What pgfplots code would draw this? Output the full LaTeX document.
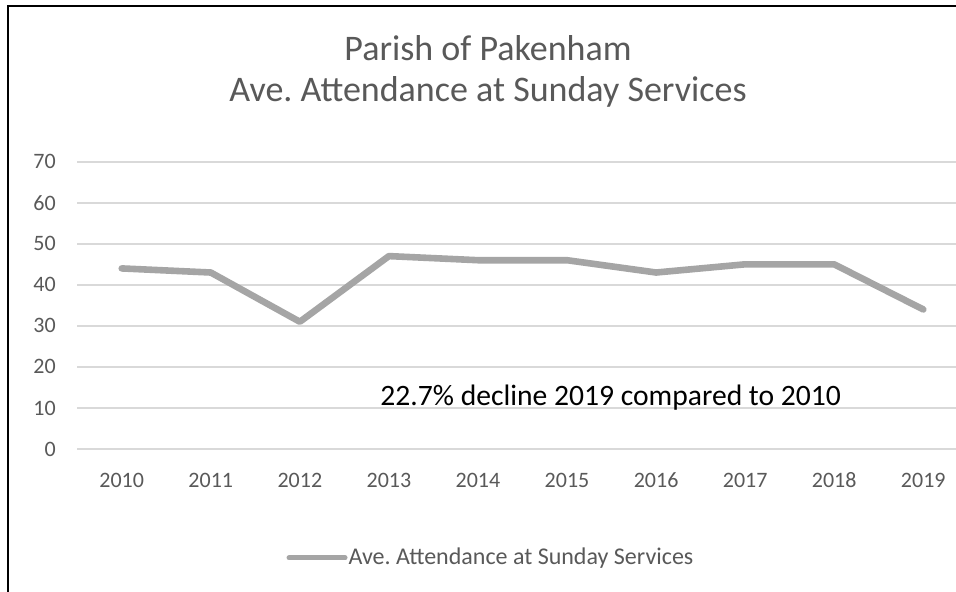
\documentclass[border=0pt]{standalone}
\usepackage{pgfplots}
\pgfplotsset{compat=1.18}
\usepackage{fontspec}
\setmainfont{Carlito}
\frenchspacing
\definecolor{txtgray}{HTML}{595959}
\definecolor{gridgray}{HTML}{D9D9D9}
\definecolor{linegray}{HTML}{A5A5A5}
\begin{document}
\begin{tikzpicture}
\path[use as bounding box] (0,0) rectangle (478pt,296pt);
\clip (0,0) rectangle (478pt,296pt);
\fill[white] (0,0) rectangle (478pt,296pt);
\draw[black, line width=1.1pt] (4pt,0) -- (4pt,293pt) -- (480pt,293pt);
\node[anchor=base, text=txtgray, font=\fontsize{18}{21}\selectfont] at (244pt,265.6pt) {Parish of Pakenham};
\node[anchor=base, text=txtgray, font=\fontsize{18}{21}\selectfont] at (244pt,245.1pt) {Ave. Attendance at Sunday Services};
\begin{axis}[
  at={(38.6pt,71.5pt)}, anchor=south west,
  scale only axis, width=445.3pt, height=143.65pt,
  xmin=-0.5, xmax=9.5, ymin=0, ymax=70,
  axis line style={draw=none},
  ytick={0,10,...,70},
  xtick={0,...,9},
  xticklabels={2010,2011,2012,2013,2014,2015,2016,2017,2018,2019},
  major tick length=0pt,
  ymajorgrids, grid style={gridgray, line width=0.8pt},
  /pgf/number format/assume math mode=true,
  yticklabel style={anchor=east, inner sep=0pt, xshift=-10.5pt, text=txtgray, font=\fontsize{11}{13}\selectfont},
  xticklabel style={anchor=base, inner sep=0pt, yshift=-19.5pt, text=txtgray, font=\fontsize{11}{13}\selectfont},
  legend style={at={(0.464,-0.379)}, anchor=center, draw=none, fill=none, font=\fontsize{12}{14}\selectfont, text=txtgray, inner sep=0pt,
    nodes={inner sep=0.5pt},
    /tikz/every even column/.append style={column sep=0pt}},
  legend image code/.code={\draw[#1, line width=2.5pt] (0pt,0pt) -- (28pt,0pt);},
  clip=false,
]
\addplot[linegray, line width=3.3pt, line cap=round, line join=round] coordinates {
(0,44) (1,43) (2,31) (3,47) (4,46) (5,46) (6,43) (7,45) (8,45) (9,34)
};
\addlegendentry{Ave. Attendance at Sunday Services}
\node[anchor=base, text=black, font=\fontsize{14.8}{17}\selectfont] at (axis cs:5.49,10.7) {22.7\% decline 2019 compared to 2010};
\end{axis}
\end{tikzpicture}
\end{document}
